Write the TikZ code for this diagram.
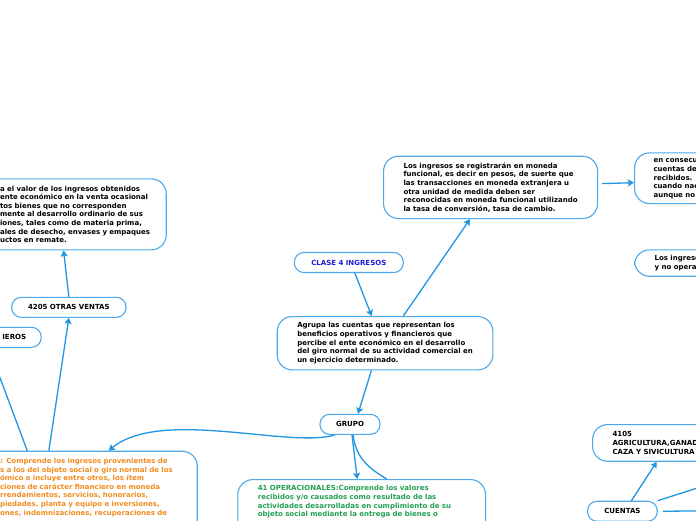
\documentclass[tikz,border=0pt]{standalone}
\usepackage{fontspec}
\setmainfont{DejaVu Sans}
\usetikzlibrary{arrows.meta}
\definecolor{linkblue}{HTML}{2196E3}
\definecolor{boxblue}{HTML}{4DA9EA}
\definecolor{clasblue}{HTML}{1E1EDC}
\definecolor{oporange}{HTML}{F28C1E}
\definecolor{opgreen}{HTML}{22A052}
\newcommand{\mmtext}{\bfseries\fontsize{7}{8.6}\selectfont}
\begin{document}
\begin{tikzpicture}[x=1pt, y=-1pt, >={Stealth[length=6pt,width=7pt,inset=1pt]},
  box/.style={draw=boxblue, line width=1.1pt, rounded corners=15pt, fill=white,
    align=left, inner xsep=20pt, inner ysep=2pt, font=\mmtext},
  pill/.style={draw=boxblue, line width=1.1pt, rounded corners=9.5pt, fill=white,
    minimum height=20pt, inner ysep=0pt, font=\mmtext},
  link/.style={draw=linkblue, line width=1.3pt}]
  \useasboundingbox (0,0) rectangle (696,520);
  \fill[white] (0,0) rectangle (696,520);
  \clip (0,0) rectangle (696,520);

  \node[box, anchor=north west, inner xsep=14pt, text width=152.2pt, minimum height=71pt] (otrasdesc) at (-14.5,178.3)
    {a el valor de los ingresos obtenidos\\ ente económico en la venta ocasional\\ tos bienes que no corresponden\\
     mente al desarrollo ordinario de sus\\ iones, tales como de materia prima,\\ ales de desecho, envases y empaques\\
     uctos en remate.};
  \node[pill, minimum width=114.3pt] (otras) at (68.85,307.3) {4205 OTRAS VENTAS};
  \node[pill, anchor=east, inner xsep=15pt] (fin) at (41.7,337.3) {IEROS};
  \node[box, anchor=north west, text width=177.2pt, inner ysep=7pt, text=oporange] (noop) at (-20.5,450.7)
    {: Comprende los ingresos provenientes de\\ s a los del objeto social o giro normal de los\\ ómico e incluye entre otros, los ítem\\
     ciones de carácter financiero en moneda\\ rrendamientos, servicios, honorarios,\\ piedades, planta y equipo e inversiones,\\
     ones, indemnizaciones, recuperaciones de\rule[-22pt]{0pt}{22pt}};

  \node[pill, minimum width=109pt, text=clasblue] (clase) at (348.8,262.5) {CLASE 4 INGRESOS};
  \node[box, anchor=north west, minimum height=53.3pt] (agrupa) at (276.7,316)
    {Agrupa las cuentas que representan los\\ beneficios operativos y financieros que\\
     percibe el ente económico en el desarrollo\\ del giro normal de su actividad comercial en\\ un ejercicio determinado.};
  \node[pill, minimum width=60pt] (grupo) at (350,424.3) {GRUPO};
  \node[box, anchor=north west, text width=207.7pt, inner ysep=6pt, text=opgreen] (oper) at (237.3,479)
    {41 OPERACIONALES:Comprende los valores\\ recibidos y/o causados como resultado de las\\
     actividades desarrolladas en cumplimiento de su\\ objeto social mediante la entrega de bienes o\rule[-22pt]{0pt}{22pt}};

  \node[box, anchor=north west, minimum height=62.3pt] (registro) at (383,155.7)
    {Los ingresos se registrarán en moneda\\ funcional, es decir en pesos, de suerte que\\ las transacciones en moneda extranjera u\\
     otra unidad de medida deben ser\\ reconocidas en moneda funcional utilizando\\ la tasa de conversión, tasa de cambio.};
  \node[box, anchor=north west, inner xsep=19pt, minimum height=50.7pt] (consec) at (634,152.3)
    {en consecuencia\\ cuentas de los\\ recibidos. Se\\ cuando nace\\ aunque no se};
  \node[box, anchor=north west, minimum height=26.4pt] (noing) at (634,249.3) {Los ingresos\\ y no operacionales};
  \node[box, anchor=north west, minimum height=36.7pt] (agri) at (592,424)
    {4105\\ AGRICULTURA,GANADERIA,\\ CAZA Y SIVICULTURA};
  \node[pill, anchor=north west, minimum width=69.7pt] (cuentas) at (587,500.7) {CUENTAS};
  \coordinate (offa) at (720,480.7);
  \coordinate (offb) at (720,510.7);

  \draw[link,->] (otras.north) -- ([xshift=-12.6pt]otrasdesc.south);
  \draw[link,->] ([xshift=-39.8pt]noop.north) -- (otras.south);
  \draw[link,->] ([xshift=-61.4pt]noop.north) -- ([xshift=2pt]fin.south west);
  \draw[link,->] ([xshift=-15pt]grupo.south) .. controls +(-45,14) and +(52,-43) .. ([xshift=20pt]noop.north);
  \draw[link,->] ([xshift=6pt]clase.south) -- ([xshift=95pt]agrupa.north west);
  \draw[link,->] ([xshift=126.6pt]agrupa.north west) -- ([xshift=87pt]registro.south west);
  \draw[link,->] ([xshift=94.7pt]agrupa.south west) -- ([xshift=8pt]grupo.north);
  \draw[link,->] ([xshift=4pt,yshift=3.8pt]registro.east) -- ([yshift=-4.5pt]consec.west);
  \draw[link,->] ([xshift=2pt]grupo.south) -- ([xshift=-4.45pt]oper.north);
  \draw[link] ([xshift=3pt]grupo.south) .. controls +(3,22) and +(-20,-12) .. ([xshift=25pt]oper.north);
  \draw[link,->] ([xshift=9pt]cuentas.north) -- ([xshift=64.7pt]agri.south west);
  \draw[link,->] (cuentas.north east) -- (offa);
  \draw[link,->] ([xshift=5pt]cuentas.east) -- (offb);
\end{tikzpicture}
\end{document}
